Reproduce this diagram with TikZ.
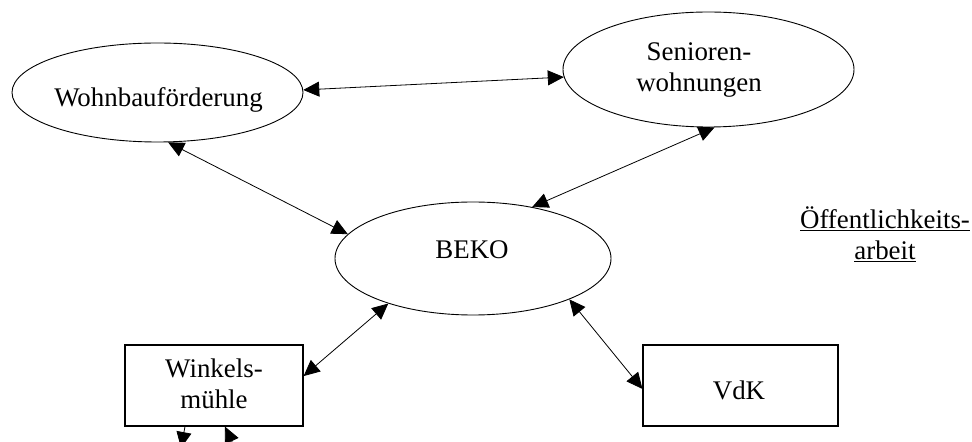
\documentclass[tikz,border=0pt]{standalone}
\usepackage{fontspec}
\setmainfont{Liberation Serif}
\usetikzlibrary{arrows.meta,shapes.geometric}
\begin{document}
\begin{tikzpicture}[x=1bp,y=-1bp,
  ellbox/.style={draw, ellipse, line width=0.9bp, inner sep=0pt},
  rectbox/.style={draw, rectangle, line width=1.2bp, inner sep=0pt},
  lbl/.style={inner sep=0pt, align=center, font=\fontsize{27}{31}\selectfont},
  conn/.style={line width=0.8bp, {Triangle[length=16bp,width=15bp]}-{Triangle[length=16bp,width=15bp]}},
  oneway/.style={line width=0.8bp, -{Triangle[length=16bp,width=15bp]}}]
\clip (0,0) rectangle (972,442);
\fill[white] (0,0) rectangle (972,442);

% shapes
\node[ellbox, minimum width=291bp, minimum height=99bp] (wohn) at (157.5,92.5) {};
\node[ellbox, minimum width=291bp, minimum height=115bp] (sen) at (708.5,69.5) {};
\node[ellbox, minimum width=276bp, minimum height=113bp] (beko) at (473,258.5) {};
\node[rectbox, minimum width=178bp, minimum height=81bp] (wink) at (214,385.5) {};
\node[rectbox, minimum width=195bp, minimum height=81bp] (vdk) at (740.5,385.5) {};

% texts
\node[lbl, anchor=base] (wohnT) at (158.5,107) {Wohnbauförderung};
\node[lbl] (senT) at (699,70) {Senioren-\\wohnungen};
\node[lbl, anchor=base] (bekoT) at (472,259) {BEKO};
\node[lbl] (winkT) at (214,383.5) {Winkels-\\mühle};
\node[lbl, anchor=base] (vdkT) at (739,399) {VdK};
\node[lbl] (oeff) at (885,234) {\underline{Öffentlichkeits-}\\\underline{arbeit}};

% connectors
\draw[conn] (wohn.1) -- (sen.183);
\draw[conn] (wohn.-78) -- (beko.169);
\draw[conn] (sen.-84) -- (beko.41);
\draw[conn] (wink.6.7) -- (beko.-152);
\draw[conn] (beko.-23.6) -- (vdk.182.6);

% connectors leaving the picture at the bottom
\coordinate (offA) at (181,448);
\coordinate (offB) at (245,470);
\draw[oneway] ([xshift=-29bp]wink.south) -- (offA);
\draw[oneway] (offB) -- ([xshift=11bp]wink.south);
\end{tikzpicture}
\end{document}
